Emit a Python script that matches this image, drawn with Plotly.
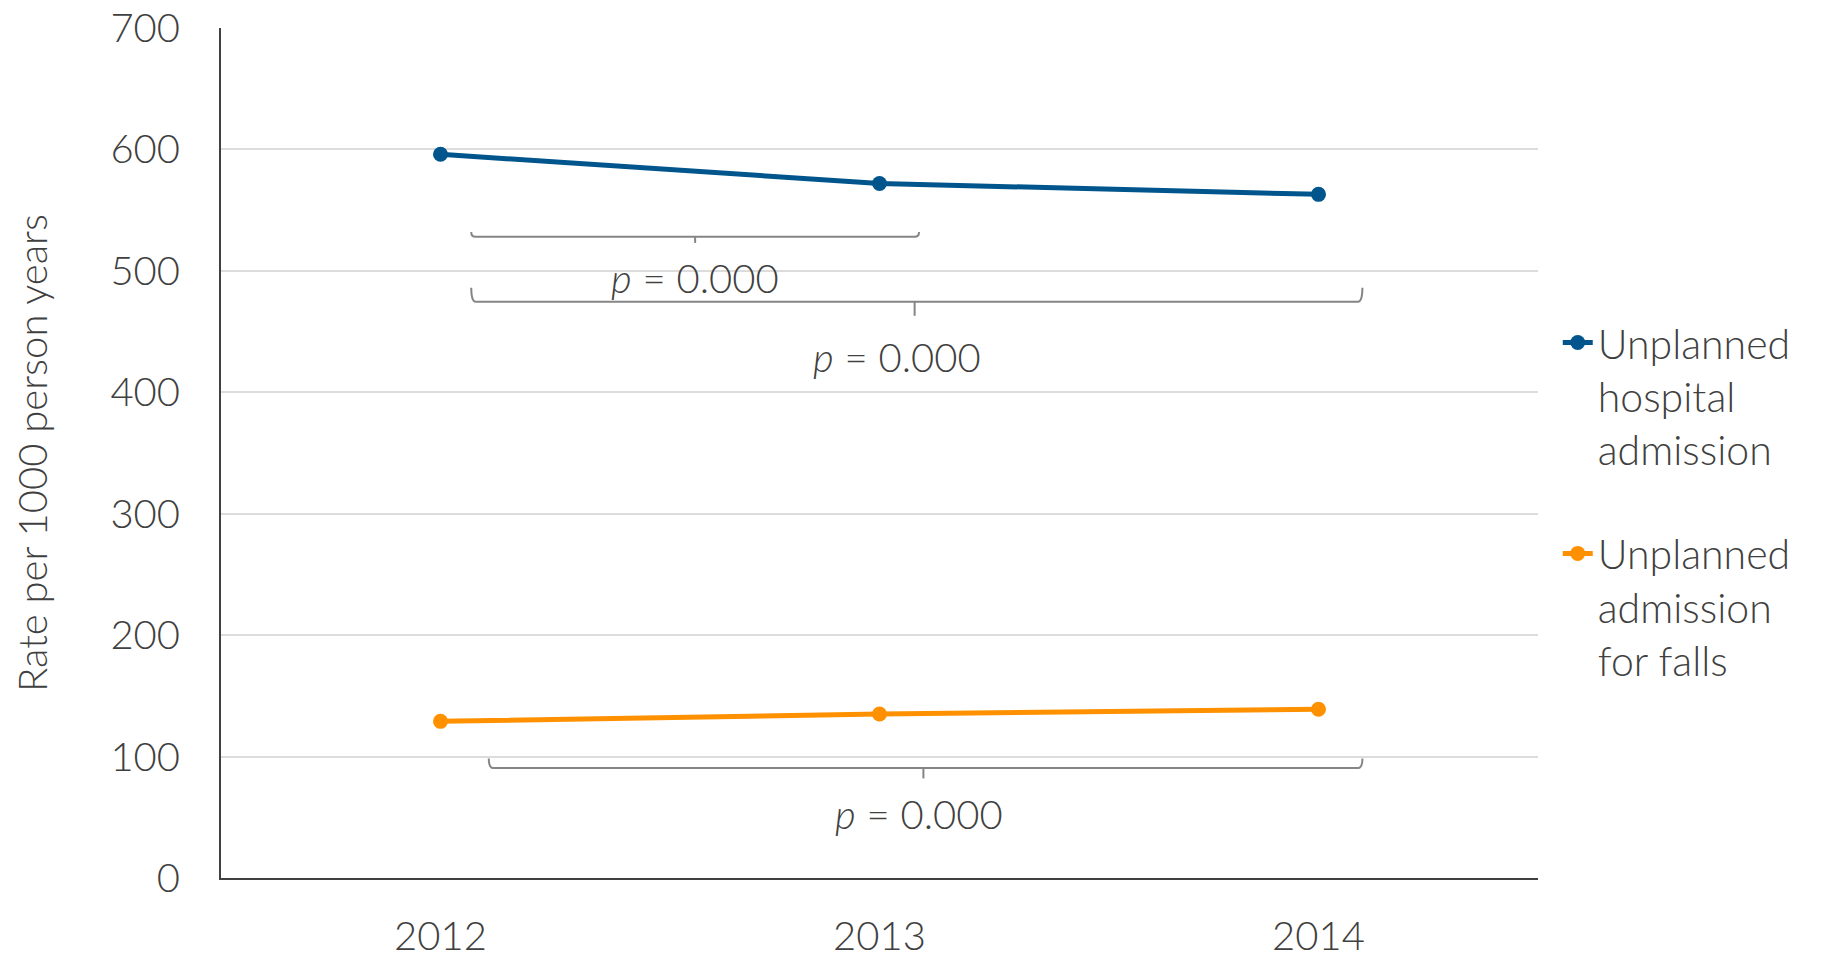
import plotly.graph_objects as go

years = ["2012", "2013", "2014"]
unplanned_hospital = [596, 572, 563]
unplanned_falls = [129, 135, 139]
series_names = ["Unplanned<br>hospital<br>admission", "Unplanned<br>admission<br>for falls"]
series_colors = ["#00558C", "#FF9100"]
y_ticks = [0, 100, 200, 300, 400, 500, 600, 700]
p_labels = ["<i>p</i> = 0.000", "<i>p</i> = 0.000", "<i>p</i> = 0.000"]

FONT = "Lato"
W = 300
TXT = "#404040"
GRAY = "#858585"

fig = go.Figure()
for vals, name, col, grp in [(unplanned_hospital, series_names[0], series_colors[0], "a"),
                             (unplanned_falls, series_names[1], series_colors[1], "b")]:
    fig.add_trace(go.Scatter(
        x=years, y=vals, name=name, mode="lines+markers", legendgroup=grp,
        line=dict(color=col, width=5), marker=dict(color=col, size=15)))

# brackets: (x0, x1, xc, y_line, y_end, y_tick)
brackets = [
    (0.07, 1.09, 0.58, 528, 532, 523),
    (0.07, 2.10, 1.08, 474.5, 486, 463),
    (0.11, 2.10, 1.10, 90.5, 98.5, 82),
]
text_pos = [(0.58, 494), (1.04, 429), (1.09, 53)]

for (x0, x1, xc, yl, ye, yt) in brackets:
    path = (f"M {x0},{ye} Q {x0},{yl} {x0+0.01},{yl} L {x1-0.01},{yl} Q {x1},{yl} {x1},{ye}")
    fig.add_shape(type="path", path=path, xref="x", yref="y",
                  line=dict(color=GRAY, width=2))
    fig.add_shape(type="line", x0=xc, x1=xc, y0=yl, y1=yt, xref="x", yref="y",
                  line=dict(color=GRAY, width=2))

for (tx, ty), lab in zip(text_pos, p_labels):
    fig.add_annotation(x=tx, y=ty, xref="x", yref="y", text=lab, showarrow=False,
                       font=dict(family=FONT, size=40, color=TXT, weight=W))

fig.update_layout(
    width=1825, height=945,
    paper_bgcolor="white", plot_bgcolor="white",
    margin=dict(l=213, r=295, t=20, b=75, autoexpand=False),
    font=dict(family=FONT, size=40, color=TXT, weight=W),
    showlegend=True,
    legend=dict(x=1.015, xanchor="left", y=0.669, yanchor="top",
                traceorder="grouped", tracegroupgap=48, valign="top",
                font=dict(family=FONT, size=41, color=TXT, weight=W),
                bgcolor="rgba(0,0,0,0)", itemwidth=30),
)
fig.update_xaxes(type="category", range=[-0.5, 2.5], showgrid=False,
                 showline=True, linecolor="#404040", linewidth=2,
                 ticks="", ticklabelstandoff=22, automargin=False,
                 ticklabeloverflow="allow",
                 tickfont=dict(family=FONT, size=40, color=TXT, weight=W))
fig.update_yaxes(range=[0, 700], tickvals=y_ticks, showgrid=True,
                 gridcolor="#DCDCDC", gridwidth=2,
                 showline=True, linecolor="#404040", linewidth=2,
                 zeroline=False, ticks="", ticklabelstandoff=31, automargin=False,
                 ticklabeloverflow="allow",
                 tickfont=dict(family=FONT, size=40, color=TXT, weight=W),
                 title=dict(text="Rate per 1000 person years", standoff=51,
                            font=dict(family=FONT, size=40, color=TXT, weight=W)))

fig.write_html("out.html")
